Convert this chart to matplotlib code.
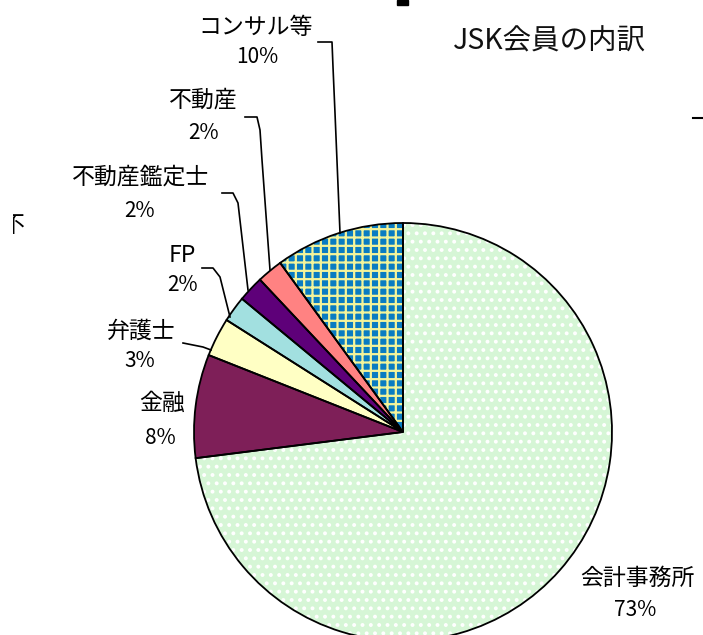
import numpy as np
import matplotlib.pyplot as plt
from matplotlib.transforms import Bbox

plt.rcParams['font.family'] = ['Noto Sans CJK JP', 'DejaVu Sans']
plt.rcParams['hatch.linewidth'] = 1.6

# Datos del gráfico (sentido horario desde las 12)
nombres = ['会計事務所', '金融', '弁護士', 'FP', '不動産鑑定士', '不動産', 'コンサル等']
valores = [73, 8, 3, 2, 2, 2, 10]
titulo = 'JSK会員の内訳'

colores = ['#d6f6d6', '#7e1f58', '#ffffc4', '#a2e0e0', '#5e0079', '#ff8282', '#0a7cc2']
tramas = ['..', '', '', '', '', '', '++']
color_trama = ['#ffffff', '#7e1f58', '#ffffc4', '#a2e0e0', '#5e0079', '#ff8282', '#f4f49a']

W, H = 703, 635
def Y(y):
    return H - y

# posiciones de etiquetas (nombre, porcentaje) en píxeles
pos_nombre = [(637, 578), (162, 403), (141, 331), (182, 255), (141, 177), (203, 100), (256, 28)]
pos_pct = [(635, 610), (160, 438), (140, 361), (183, 285), (140, 211), (204, 133), (257, 57)]
guias = [
    None,
    None,
    [(183, 343), (203, 347), (211, 350)],
    [(202, 268), (213, 268), (220, 277), (230, 317)],
    [(222, 193), (233, 193), (238, 203), (248, 290)],
    [(245, 117), (257, 117), (260, 130), (262, 160), (270, 270)],
    [(318, 42), (332, 42), (333, 67), (335, 113), (340, 233)],
]

centro = (403, Y(432))
radio = 209

fig = plt.figure(figsize=(W / 100, H / 100), dpi=100)
ax = fig.add_axes([0, 0, 1, 1])

# relleno con tramas
cuñas, _ = ax.pie(valores, colors=colores, startangle=90, counterclock=False,
                  center=centro, radius=radio, hatch=tramas,
                  wedgeprops=dict(linewidth=0))
for w, c in zip(cuñas, color_trama):
    w.set_edgecolor(c)
    w.set_linewidth(0)

# bordes negros
ax.pie(valores, colors=['none'] * len(valores), startangle=90, counterclock=False,
       center=centro, radius=radio,
       wedgeprops=dict(linewidth=1.3, edgecolor='black', fill=False))

for i in range(len(nombres)):
    ax.text(pos_nombre[i][0], Y(pos_nombre[i][1]), nombres[i],
            ha='center', va='center', fontsize=16.5, color='black')
    ax.text(pos_pct[i][0], Y(pos_pct[i][1]), f'{valores[i]}%',
            ha='center', va='center', fontsize=15, color='black')
    if guias[i] is not None:
        gx = [p[0] for p in guias[i]]
        gy = [Y(p[1]) for p in guias[i]]
        ax.plot(gx, gy, '-', color='black', linewidth=1.2)

ax.text(550, Y(42), titulo, ha='center', va='center', fontsize=20.5, color='#111111')

# restos recortados del original
ax.add_patch(plt.Rectangle((397, Y(5)), 11, 5, color='black'))
ax.plot([693, 703], [Y(118), Y(118)], '-', color='black', linewidth=1.5)
t = ax.text(2, Y(226), '不', ha='left', va='center', fontsize=16.5, color='black')
t.set_clip_on(True)
t.set_clip_box(Bbox([[13, 0], [40, H]]))

ax.set_xlim(0, W)
ax.set_ylim(0, H)
ax.set_aspect('auto')
ax.axis('off')

plt.savefig('out.png', dpi=100, facecolor='white')
